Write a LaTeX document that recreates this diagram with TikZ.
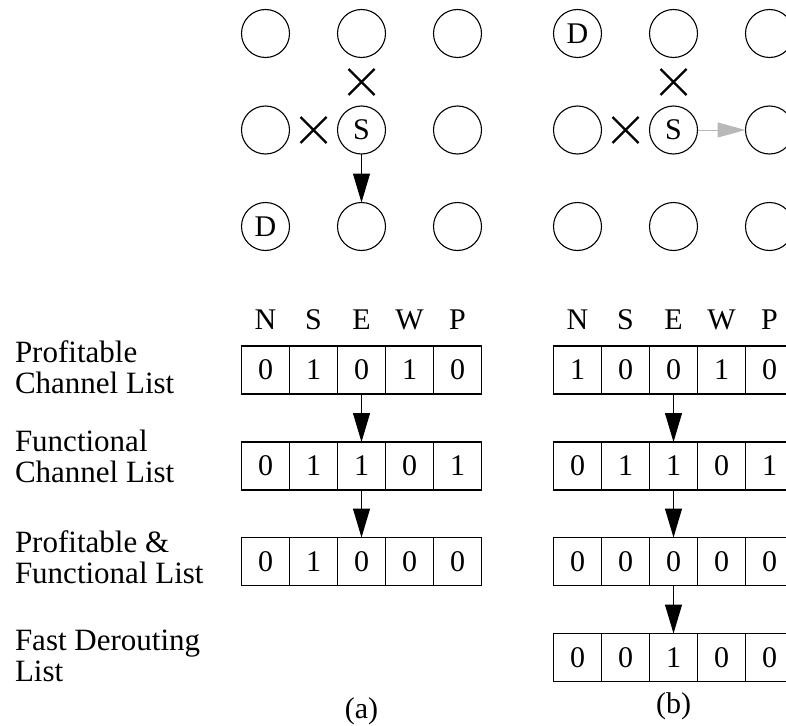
\documentclass[tikz,border=0pt]{standalone}
\usepackage{fontspec}
\setmainfont{Liberation Serif}
\usetikzlibrary{arrows.meta,shapes.misc}
\definecolor{linkgray}{gray}{0.72}
\begin{document}
\begin{tikzpicture}[x=1pt,y=-1pt,
  every node/.style={inner sep=0pt, outer sep=0pt},
  router/.style={draw, circle, minimum size=48pt, line width=1.1pt, font=\fontsize{30}{30}\selectfont},
  cell/.style={draw, minimum width=48pt, minimum height=48pt, line width=1.1pt, font=\fontsize{30}{30}\selectfont},
  hdr/.style={anchor=base, font=\fontsize{30}{30}\selectfont},
  lbl/.style={anchor=base west, align=left, font=\fontsize{31}{31}\selectfont},
  subcaption/.style={anchor=base, font=\fontsize{30}{30}\selectfont},
  blocked/.style={cross out, draw, line width=2.2pt, minimum size=26pt},
  flow/.style={line width=1pt, -{Triangle[length=29pt,width=17pt]}},
  grayflow/.style={line width=1pt, draw=linkgray, -{Triangle[length=28pt,width=15pt,fill=linkgray]}},
]
\useasboundingbox (0,0) rectangle (786,725);

% ---------- mesh of routers, case (a) ----------
\foreach \i/\y in {1/33.5,2/130,3/226.5}
  \foreach \j/\x in {1/265.5,2/361.5,3/457.5}
    \node[router] (ra\i\j) at (\x,\y) {};
\node[font=\fontsize{30}{30}\selectfont] at (ra22) {S};
\node[font=\fontsize{30}{30}\selectfont] at (ra31) {D};
\node[blocked] (xa1) at (361.5,82) {};
\node[blocked] (xa2) at (313.5,130) {};
\draw[flow] (ra22) -- (ra32);

% ---------- mesh of routers, case (b) ----------
\foreach \i/\y in {1/33.5,2/130,3/226.5}
  \foreach \j/\x in {1/577.5,2/673.5,3/769.5}
    \node[router] (rb\i\j) at (\x,\y) {};
\node[font=\fontsize{30}{30}\selectfont] at (rb22) {S};
\node[font=\fontsize{30}{30}\selectfont] at (rb11) {D};
\node[blocked] (xb1) at (673.5,82) {};
\node[blocked] (xb2) at (625.5,130) {};
\draw[grayflow] (rb22) -- (rb23);

% ---------- column headers ----------
\foreach \k/\t in {1/N,2/S,3/E,4/W,5/P} {
  \node[hdr] (ha\k) at ({241.5+48*\k-24},329) {\t};
  \node[hdr] (hb\k) at ({553.5+48*\k-24},329) {\t};
}

% ---------- row labels (anchored on the baseline of the second line) ----------
\node[lbl] (l1) at (15,393) {Profitable\\Channel List};
\node[lbl] (l2) at (15,482) {Functional\\Channel List};
\node[lbl] (l3) at (15,583) {Profitable \&\\Functional List};
\node[lbl] (l4) at (15,681.5) {Fast Derouting\\List};

% ---------- channel lists, case (a) ----------
\foreach \r/\y/\vals in {1/370/{0,1,0,1,0},2/466/{0,1,1,0,1},3/561.5/{0,1,0,0,0}} {
  \foreach \v [count=\k] in \vals
    \node[cell] (ta\r\k) at ({241.5+48*\k-24},\y) {\v};
}
\draw[flow] (ta13.south) -- (ta23.north);
\draw[flow] (ta23.south) -- (ta33.north);

% ---------- channel lists, case (b) ----------
\foreach \r/\y/\vals in {1/370/{1,0,0,1,0},2/466/{0,1,1,0,1},3/561.5/{0,0,0,0,0},4/657.5/{0,0,1,0,0}} {
  \foreach \v [count=\k] in \vals
    \node[cell] (tb\r\k) at ({553.5+48*\k-24},\y) {\v};
}
\draw[flow] (tb13.south) -- (tb23.north);
\draw[flow] (tb23.south) -- (tb33.north);
\draw[flow] (tb33.south) -- (tb43.north);

% ---------- captions ----------
\node[subcaption] (capa) at (361.5,718.5) {(a)};
\node[subcaption] (capb) at (673.5,713.5) {(b)};
\end{tikzpicture}
\end{document}
